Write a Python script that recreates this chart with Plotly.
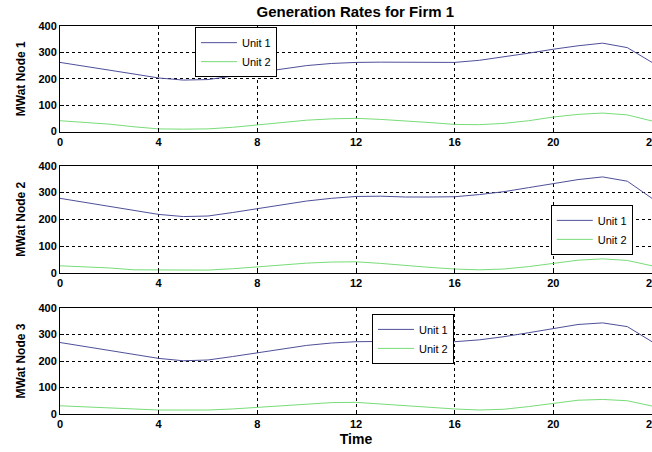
import plotly.graph_objects as go

hours = list(range(25))
x_ticks = [0, 4, 8, 12, 16, 20, 24]
y_ticks = [0, 100, 200, 300, 400]

node1_unit1 = [262, 248, 233, 218, 203, 195, 197, 210, 223, 238, 250, 258, 262,
               263, 263, 262, 262, 270, 283, 297, 312, 325, 335, 318, 262]
node1_unit2 = [41, 35, 28, 18, 10, 9, 10, 16, 25, 34, 43, 48, 50,
               46, 41, 34, 27, 26, 31, 41, 55, 65, 70, 63, 40]
node2_unit1 = [278, 263, 248, 232, 218, 210, 212, 225, 240, 255, 268, 278, 285,
               286, 283, 283, 284, 292, 303, 318, 334, 348, 358, 342, 278]
node2_unit2 = [26, 23, 18, 11, 10, 10, 10, 15, 22, 29, 36, 40, 41,
               35, 27, 20, 14, 11, 14, 23, 35, 47, 52, 46, 26]
node3_unit1 = [270, 255, 240, 224, 210, 201, 204, 217, 231, 246, 259, 268, 273,
               274, 273, 273, 273, 280, 292, 307, 323, 338, 344, 330, 273]
node3_unit2 = [31, 27, 23, 17, 15, 15, 15, 19, 25, 33, 39, 43, 44,
               38, 30, 24, 19, 15, 18, 28, 40, 52, 55, 50, 30]

series = [(node1_unit1, node1_unit2), (node2_unit1, node2_unit2), (node3_unit1, node3_unit2)]
y_titles = ["MWat Node 1", "MWat Node 2", "MWat Node 3"]

c1 = "#4f4f9a"
c2 = "#78dc78"

FONT = "Liberation Sans, Arial, sans-serif"

fig = go.Figure()
domains = [[0.728, 1.0], [0.364, 0.640], [0.0, 0.273]]
legend_pos = [(0.228, 0.997), (0.829, 0.539), (0.527, 0.258)]

for i, (u1, u2) in enumerate(series):
    ax = "" if i == 0 else str(i + 1)
    lg = "legend" if i == 0 else f"legend{i+1}"
    fig.add_trace(go.Scatter(x=hours, y=u1, mode="lines", name="Unit 1",
                             line=dict(color=c1, width=1), xaxis="x" + ax, yaxis="y" + ax,
                             legend=lg))
    fig.add_trace(go.Scatter(x=hours, y=u2, mode="lines", name="Unit 2",
                             line=dict(color=c2, width=1), xaxis="x" + ax, yaxis="y" + ax,
                             legend=lg))

axis_common = dict(showline=True, mirror=True, linecolor="black", linewidth=1,
                   showgrid=True, gridcolor="black", griddash="dot", gridwidth=1,
                   ticks="inside", ticklen=4, tickcolor="black", zeroline=False,
                   automargin=False,
                   tickfont=dict(family=FONT, size=11, color="black", weight="bold"))

layout = dict(
    width=652, height=452,
    margin=dict(l=60, r=0, t=26, b=38, autoexpand=False),
    paper_bgcolor="white", plot_bgcolor="white",
    title=dict(text="Generation Rates for Firm 1", x=0.545, xanchor="center",
               y=0.974, yanchor="middle",
               font=dict(family=FONT, size=15, color="black", weight="bold")),
    showlegend=True,
)

for i in range(3):
    ax = "" if i == 0 else str(i + 1)
    xa = dict(axis_common, range=[0, 24], tickvals=x_ticks, domain=[0, 1],
              anchor="y" + ax, ticklabeloverflow="allow")
    if i == 2:
        xa["title"] = dict(text="Time", standoff=4,
                           font=dict(family=FONT, size=14, color="black", weight="bold"))
    ya = dict(axis_common, range=[0, 400], tickvals=y_ticks, domain=domains[i],
              anchor="x" + ax,
              title=dict(text=y_titles[i], standoff=10,
                         font=dict(family=FONT, size=12, color="black", weight="bold")))
    layout["xaxis" + ax] = xa
    layout["yaxis" + ax] = ya
    lg = "legend" if i == 0 else f"legend{i+1}"
    lx, ly = legend_pos[i]
    layout[lg] = dict(x=lx, y=ly, xanchor="left", yanchor="top",
                      bgcolor="white", bordercolor="black", borderwidth=1,
                      font=dict(family=FONT, size=11, color="black"),
                      tracegroupgap=0, itemwidth=36)

fig.update_layout(**layout)
fig.write_html("out.html", config={"displayModeBar": False},
               post_script="document.body.style.margin='0';document.body.style.overflow='hidden';")
